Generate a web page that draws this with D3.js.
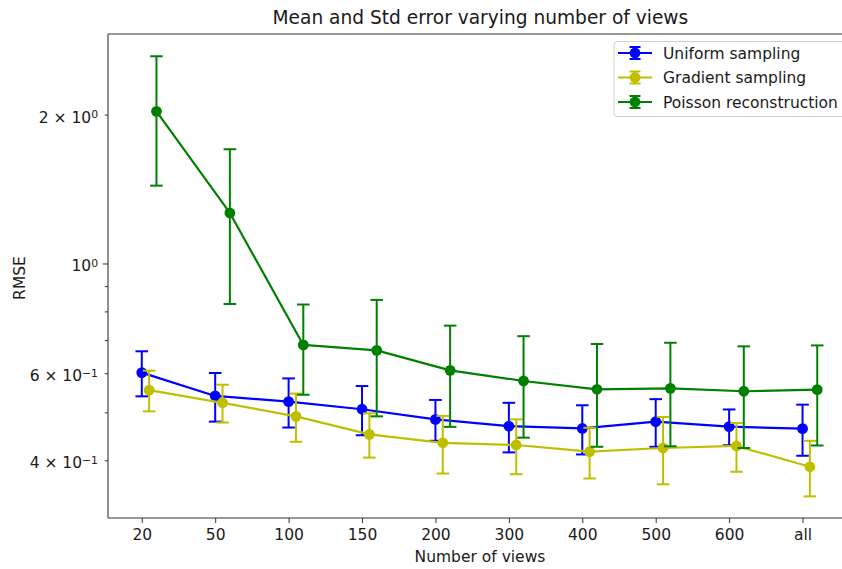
<!DOCTYPE html>
<html>
<head>
<meta charset="utf-8">
<script src="https://cdn.jsdelivr.net/npm/d3@7"></script>
<style>
  html, body { margin: 0; padding: 0; background: #fff; }
  svg { display: block; font-family: "DejaVu Sans", sans-serif; }
</style>
</head>
<body>
<svg id="chart" width="842" height="569"></svg>
<script>
// Categories on the x axis
const categories = ["20", "50", "100", "150", "200", "300", "400", "500", "600", "all"];

// Mean RMSE and standard error per series
const uniformMean = [0.603, 0.541, 0.527, 0.5085, 0.485, 0.470, 0.465, 0.480, 0.469, 0.4645];
const uniformErr  = [0.063, 0.061, 0.060, 0.058, 0.046, 0.054, 0.053, 0.053, 0.039, 0.055];

const gradientMean = [0.556, 0.524, 0.492, 0.4525, 0.435, 0.4305, 0.4174, 0.4246, 0.4286, 0.389];
const gradientErr  = [0.0525, 0.046, 0.055, 0.0465, 0.058, 0.0547, 0.049, 0.066, 0.0485, 0.050];

const poissonMean = [2.035, 1.268, 0.686, 0.669, 0.6095, 0.580, 0.558, 0.5605, 0.553, 0.557];
const poissonErr  = [0.595, 0.438, 0.142, 0.177, 0.141, 0.1345, 0.131, 0.1325, 0.1285, 0.1275];

// y tick labels (value, mantissa text, exponent)
const yTickValues = [2, 1, 0.6, 0.4];
const yTickLabels = [["2 × 10", "0"], ["10", "0"], ["6 × 10", "−1"], ["4 × 10", "−1"]];
const yMinorValues = [0.5, 0.7, 0.8, 0.9];

const seriesNames = ["Uniform sampling", "Gradient sampling", "Poisson reconstruction"];
const seriesColors = ["#0000ff", "#bfbf00", "#008000"];
const seriesOffsets = [0, 0.1, 0.2];

const series = [
  { name: seriesNames[0], mean: uniformMean, err: uniformErr, color: seriesColors[0], off: seriesOffsets[0] },
  { name: seriesNames[1], mean: gradientMean, err: gradientErr, color: seriesColors[1], off: seriesOffsets[1] },
  { name: seriesNames[2], mean: poissonMean, err: poissonErr, color: seriesColors[2], off: seriesOffsets[2] }
];

const svg = d3.select("#chart");
const pLeft = 108, pRight = 851, pTop = 34, pBottom = 518;
const fs = 15.5;      // base text size
const ink = "#1a1a1a";

const x = d3.scaleLinear().domain([-0.46, 9.66]).range([pLeft, pRight]);
const y = d3.scaleLog().domain([0.3065, 2.917]).range([pBottom, pTop]);

const plot = svg.append("g");

// Series: line, error bars, markers
series.forEach(s => {
  const pts = s.mean.map((m, i) => ({ x: i + s.off, m, e: s.err[i] }));
  const g = plot.append("g");

  g.append("path")
    .datum(pts)
    .attr("fill", "none")
    .attr("stroke", s.color)
    .attr("stroke-width", 2.2)
    .attr("stroke-linejoin", "round")
    .attr("d", d3.line().x(d => x(d.x)).y(d => y(d.m)));

  const eb = g.selectAll("g.eb").data(pts).join("g").attr("class", "eb");
  eb.append("line")
    .attr("x1", d => x(d.x)).attr("x2", d => x(d.x))
    .attr("y1", d => y(d.m + d.e)).attr("y2", d => y(d.m - d.e))
    .attr("stroke", s.color).attr("stroke-width", 2);
  [1, -1].forEach(sign => {
    eb.append("line")
      .attr("x1", d => x(d.x) - 6.3).attr("x2", d => x(d.x) + 6.3)
      .attr("y1", d => y(d.m + sign * d.e)).attr("y2", d => y(d.m + sign * d.e))
      .attr("stroke", s.color).attr("stroke-width", 2);
  });

  g.selectAll("circle").data(pts).join("circle")
    .attr("cx", d => x(d.x)).attr("cy", d => y(d.m))
    .attr("r", 5.4).attr("fill", s.color);
});

// Frame
const frame = svg.append("g").attr("stroke", "#333").attr("stroke-width", 1.1).attr("fill", "none");
frame.append("line").attr("x1", pLeft).attr("x2", pRight).attr("y1", pTop).attr("y2", pTop);
frame.append("line").attr("x1", pLeft).attr("x2", pRight).attr("y1", pBottom).attr("y2", pBottom);
frame.append("line").attr("x1", pLeft).attr("x2", pLeft).attr("y1", pTop).attr("y2", pBottom);
frame.append("line").attr("x1", pRight).attr("x2", pRight).attr("y1", pTop).attr("y2", pBottom);

// x axis
const xAxis = svg.append("g").attr("transform", `translate(0,${pBottom})`)
  .call(d3.axisBottom(x).tickValues(d3.range(categories.length)).tickFormat(i => categories[i]).tickSize(5).tickPadding(6));
xAxis.select(".domain").remove();
xAxis.selectAll("line").attr("stroke", "#333");
xAxis.selectAll("text").attr("font-size", fs).attr("fill", ink).attr("font-family", "DejaVu Sans, sans-serif");

// y axis: labelled ticks
const yAxis = svg.append("g").attr("transform", `translate(${pLeft},0)`);
yAxis.selectAll("line.minor").data(yMinorValues).join("line").attr("class", "minor")
  .attr("x1", -3.2).attr("x2", 0).attr("y1", d => y(d)).attr("y2", d => y(d)).attr("stroke", "#333");
yAxis.selectAll("line.major").data(yTickValues).join("line").attr("class", "major")
  .attr("x1", d => d === 1 ? -5.4 : -3.2).attr("x2", 0).attr("y1", d => y(d)).attr("y2", d => y(d)).attr("stroke", "#333");
const yt = yAxis.selectAll("text.tl").data(yTickValues).join("text").attr("class", "tl")
  .attr("x", -10).attr("y", d => y(d) + 7.5)
  .attr("text-anchor", "end").attr("font-size", fs).attr("fill", ink);
yt.each(function(d, i) {
  const t = d3.select(this);
  t.append("tspan").text(yTickLabels[i][0]);
  t.append("tspan").attr("dy", "-0.42em").attr("font-size", 10.8).text(yTickLabels[i][1]);
});

// Axis titles
svg.append("text").attr("x", 480).attr("y", 561.5).attr("text-anchor", "middle")
  .attr("font-size", fs).attr("fill", ink).text("Number of views");
svg.append("text").attr("transform", `translate(25,278) rotate(-90)`)
  .attr("text-anchor", "middle").attr("font-size", fs).attr("fill", ink).text("RMSE");
svg.append("text").attr("x", 480.4).attr("y", 23.5).attr("text-anchor", "middle")
  .attr("font-size", 18.6).attr("fill", ink).text("Mean and Std error varying number of views");

// Legend
const lg = svg.append("g").attr("transform", "translate(614,41.5)");
lg.append("rect").attr("x", 0).attr("y", 0).attr("width", 232).attr("height", 75).attr("rx", 3)
  .attr("fill", "#fff").attr("fill-opacity", 0.8).attr("stroke", "#d0d0d0");
series.forEach((s, i) => {
  const ry = 11.5 + i * 24.5;
  const r = lg.append("g").attr("transform", `translate(0,${ry})`);
  r.append("line").attr("x1", 4).attr("x2", 38).attr("y1", 0).attr("y2", 0).attr("stroke", s.color).attr("stroke-width", 2.2);
  r.append("line").attr("x1", 21).attr("x2", 21).attr("y1", -6).attr("y2", 6).attr("stroke", s.color).attr("stroke-width", 2);
  r.append("line").attr("x1", 15.5).attr("x2", 26.5).attr("y1", -6).attr("y2", -6).attr("stroke", s.color).attr("stroke-width", 2);
  r.append("line").attr("x1", 15.5).attr("x2", 26.5).attr("y1", 6).attr("y2", 6).attr("stroke", s.color).attr("stroke-width", 2);
  r.append("circle").attr("cx", 21).attr("cy", 0).attr("r", 5.4).attr("fill", s.color);
  r.append("text").attr("x", 49).attr("y", 5.5).attr("font-size", fs).attr("fill", ink).text(s.name);
});
</script>
</body>
</html>
